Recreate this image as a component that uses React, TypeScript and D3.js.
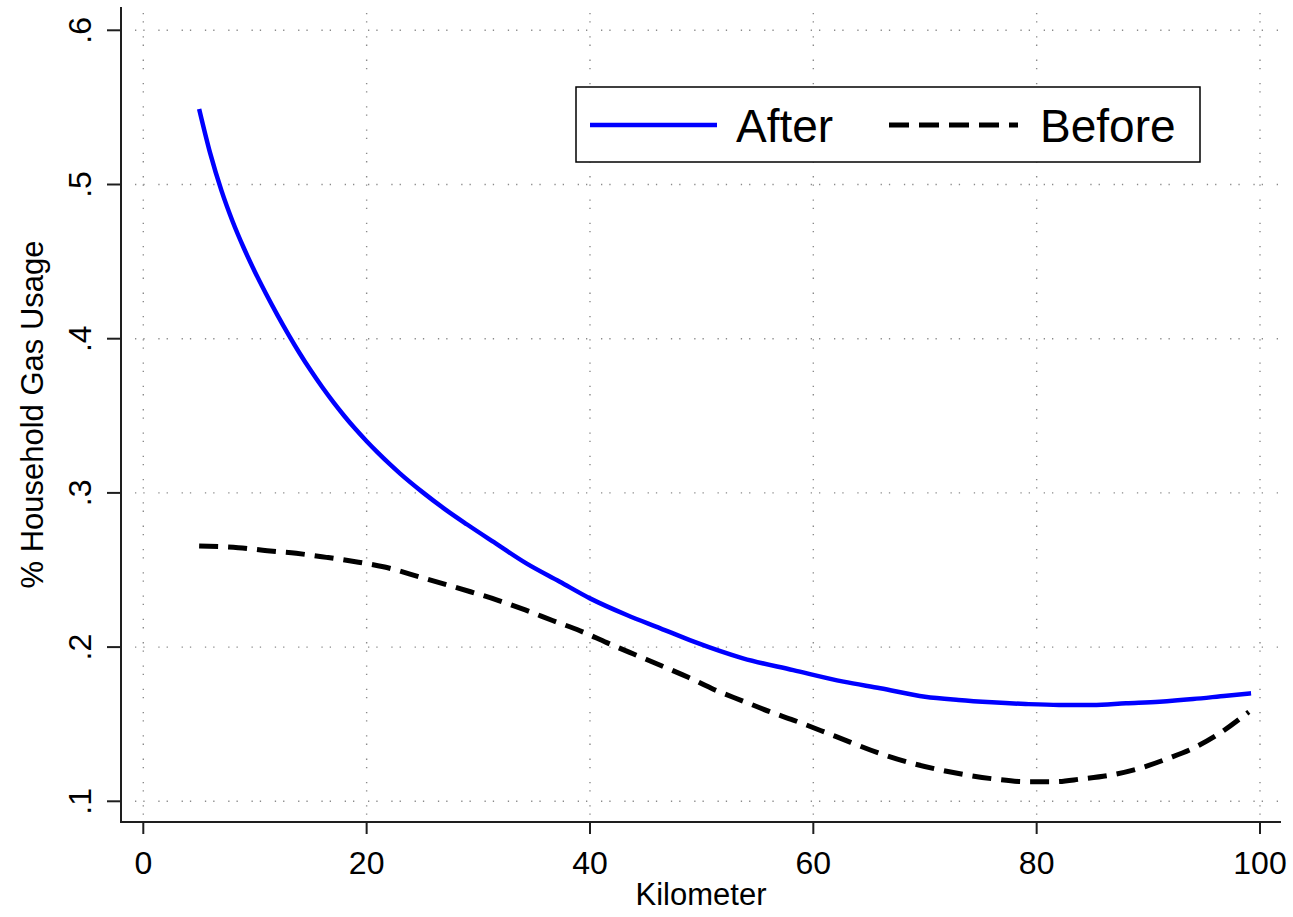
import React from "react";
import * as d3 from "d3";

// Axis ticks
const xTicks = [0, 20, 40, 60, 80, 100];
const yTicks = [0.1, 0.2, 0.3, 0.4, 0.5, 0.6];
const yTickLabels = [".1", ".2", ".3", ".4", ".5", ".6"];

// Fitted share of households using gas, by distance (km)
const kmAfter = [
  5, 6, 7, 8, 9, 10, 11, 12, 13, 14, 15, 16, 17, 18, 19, 20, 21, 22, 23, 25, 27, 29,
  31.4, 34.3, 37.3, 40, 43.3, 46.3, 49.3, 53.7, 58.2, 62.7, 66, 70, 73, 76, 79, 82,
  85, 88, 91, 94, 97, 99.2,
];
const afterShare = [
  0.549, 0.52, 0.496, 0.476, 0.4588, 0.4433, 0.429, 0.4155, 0.4027, 0.3906, 0.3793,
  0.3688, 0.359, 0.3499, 0.3414, 0.3335, 0.3261, 0.3191, 0.3125, 0.3005, 0.2895,
  0.2795, 0.268, 0.2543, 0.2424, 0.2316, 0.2208, 0.2122, 0.2035, 0.1927, 0.1851,
  0.1776, 0.1733, 0.1678, 0.1657, 0.1642, 0.1631, 0.1625, 0.1625, 0.1636, 0.1646,
  0.1663, 0.1685, 0.17,
];

const kmBefore = [
  5, 8.5, 11.1, 13.7, 16.4, 19, 21.5, 25, 29.3, 31.7, 34.2, 36.7, 39.1, 41.5, 43.9,
  46.4, 48.8, 51.2, 53.7, 56.1, 58.2, 62, 66.1, 68.5, 71, 73.7, 76.4, 79, 81.6, 84,
  86.7, 89.4, 91.8, 94.3, 96.6, 99,
];
const beforeShare = [
  0.2656, 0.2645, 0.2625, 0.2608, 0.2582, 0.2554, 0.2521, 0.245, 0.2359, 0.2305,
  0.2241, 0.2171, 0.2106, 0.2029, 0.1955, 0.1879, 0.1804, 0.1722, 0.165, 0.1581,
  0.1527, 0.1421, 0.1307, 0.1253, 0.1209, 0.1171, 0.1143, 0.1127, 0.1127, 0.1145,
  0.1171, 0.1218, 0.1279, 0.1354, 0.1451, 0.158,
];

const seriesNames = ["After", "Before"];

const FONT = "'Liberation Sans', Arial, Helvetica, sans-serif";
const GRID_DASH = "1.3 7 1.3 13.7";

export default function App() {
  const W = 1293;
  const H = 917;

  const x = d3.scaleLinear().domain([0, 100]).range([143.3, 1260]);
  const y = d3.scaleLinear().domain([0.1, 0.6]).range([801.3, 30.3]);

  const axisLeft = 121;
  const axisBottom = 822;
  const plotTop = 7;
  const plotRight = 1281;

  const line = d3
    .line<[number, number]>()
    .x((d) => x(d[0]))
    .y((d) => y(d[1]))
    .curve(d3.curveMonotoneX);

  const afterPts = kmAfter.map((k, i) => [k, afterShare[i]] as [number, number]);
  const beforePts = kmBefore.map((k, i) => [k, beforeShare[i]] as [number, number]);

  return (
    <svg
      width={W}
      height={H}
      viewBox={`0 0 ${W} ${H}`}
      style={{ position: "absolute", left: 0, top: 0, display: "block", background: "#fff" }}
      fontFamily={FONT}
    >
      <rect x={0} y={0} width={W} height={H} fill="#fff" />

      {/* dotted grid */}
      <g stroke="#8a8a8a" strokeWidth={1.4} strokeDasharray={GRID_DASH} fill="none">
        {yTicks.map((t) => (
          <line key={`gy${t}`} x1={axisLeft + 14} x2={plotRight - 2} y1={y(t)} y2={y(t)} />
        ))}
        {xTicks.map((t) => (
          <line key={`gx${t}`} x1={x(t)} x2={x(t)} y1={plotTop + 6} y2={axisBottom - 4} />
        ))}
      </g>

      {/* series */}
      <path d={line(beforePts) ?? ""} fill="none" stroke="#000" strokeWidth={5} strokeDasharray="19 10" />
      <path d={line(afterPts) ?? ""} fill="none" stroke="#0000ff" strokeWidth={4.5} strokeLinejoin="round" />

      {/* axes */}
      <g stroke="#1e1e1e" strokeWidth={2}>
        <line x1={axisLeft} x2={axisLeft} y1={plotTop} y2={axisBottom + 1} />
        <line x1={axisLeft - 1} x2={plotRight} y1={axisBottom} y2={axisBottom} />
        {yTicks.map((t) => (
          <line key={`ty${t}`} x1={axisLeft - 14} x2={axisLeft} y1={y(t)} y2={y(t)} />
        ))}
        {xTicks.map((t) => (
          <line key={`tx${t}`} x1={x(t)} x2={x(t)} y1={axisBottom} y2={axisBottom + 12} />
        ))}
      </g>

      {/* tick labels */}
      <g fontSize={32} fill="#000">
        {yTicks.map((t, i) => (
          <text
            key={`ly${t}`}
            transform={`translate(91,${y(t)}) rotate(-90)`}
            textAnchor="middle"
          >
            {yTickLabels[i]}
          </text>
        ))}
        {xTicks.map((t) => (
          <text key={`lx${t}`} x={x(t)} y={874} textAnchor="middle">
            {t}
          </text>
        ))}
      </g>

      {/* axis titles */}
      <text x={(axisLeft + plotRight) / 2} y={905} textAnchor="middle" fontSize={31} fill="#000">
        Kilometer
      </text>
      <text
        transform={`translate(43,${(plotTop + axisBottom) / 2}) rotate(-90)`}
        textAnchor="middle"
        fontSize={31}
        fill="#000"
      >
        % Household Gas Usage
      </text>

      {/* legend */}
      <g>
        <rect x={576} y={87} width={624} height={75} fill="#fff" stroke="#000" strokeWidth={1.5} />
        <line x1={590} x2={717} y1={125} y2={125} stroke="#0000ff" strokeWidth={4.5} />
        <text x={736} y={142} fontSize={46} fill="#000">
          {seriesNames[0]}
        </text>
        <line x1={889} x2={1018} y1={125} y2={125} stroke="#000" strokeWidth={5} strokeDasharray="20 10" />
        <text x={1040} y={142} fontSize={46} fill="#000">
          {seriesNames[1]}
        </text>
      </g>
    </svg>
  );
}
